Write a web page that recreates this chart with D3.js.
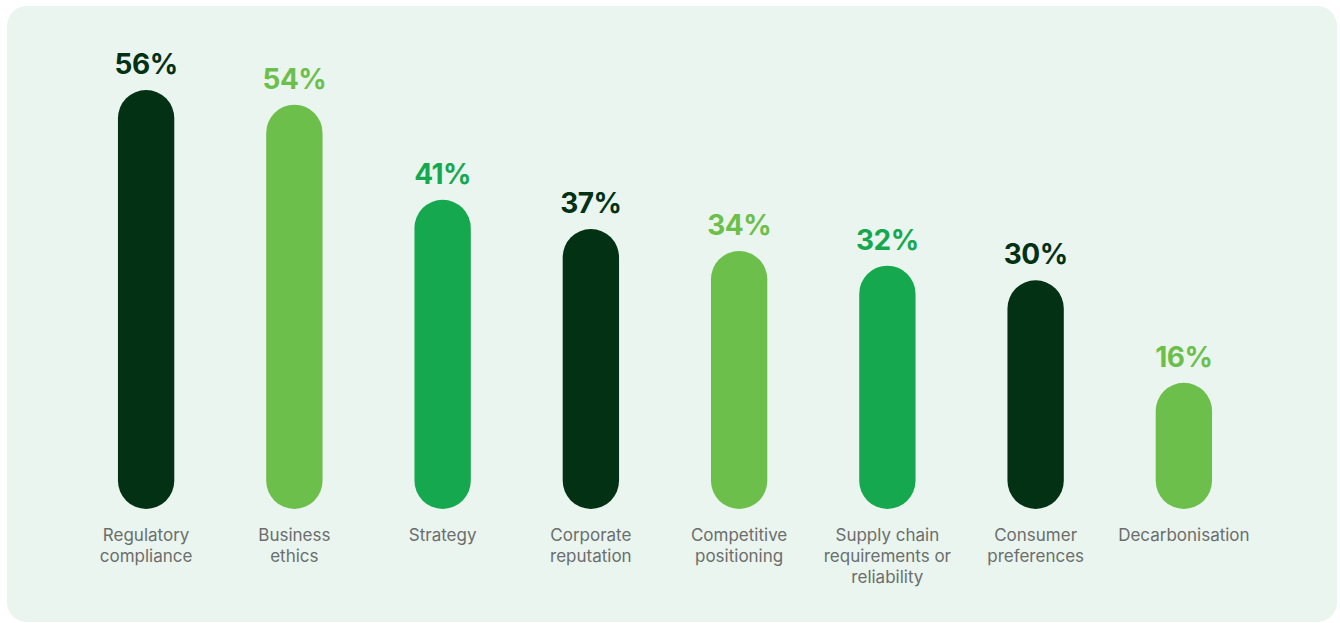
<!DOCTYPE html>
<html>
<head>
<meta charset="utf-8">
<script src="https://cdn.jsdelivr.net/npm/d3@7"></script>
<style>
  html, body { margin: 0; padding: 0; background: #ffffff; }
  svg { display: block; }
</style>
</head>
<body>
<svg id="chart" width="1340" height="623"></svg>
<script>
// Share of respondents citing each driver
const categories = [
  "Regulatory compliance",
  "Business ethics",
  "Strategy",
  "Corporate reputation",
  "Competitive positioning",
  "Supply chain requirements or reliability",
  "Consumer preferences",
  "Decarbonisation"
];
const labelLines = [
  ["Regulatory", "compliance"],
  ["Business", "ethics"],
  ["Strategy"],
  ["Corporate", "reputation"],
  ["Competitive", "positioning"],
  ["Supply chain", "requirements or", "reliability"],
  ["Consumer", "preferences"],
  ["Decarbonisation"]
];
const values = [56, 54, 41, 37, 34, 32, 30, 16];
const palette = ["#023114", "#6dbf4b", "#16a84f"];

const svg = d3.select("#chart");
const W = 1340, H = 623;

// Background panel
svg.append("rect")
  .attr("x", 7).attr("y", 6)
  .attr("width", 1330).attr("height", 616)
  .attr("rx", 20).attr("ry", 20)
  .attr("fill", "#eaf5ef");

const x = d3.scaleBand()
  .domain(categories)
  .range([72, 1258])
  .paddingInner(0.62)
  .paddingOuter(0.31);

const baseline = 509;
const y = d3.scaleLinear().domain([0, 56]).range([500, 90]);

const color = (d, i) => palette[i % 3];
const bw = x.bandwidth();

const g = svg.append("g");

// Pill-shaped bars
g.selectAll("rect.bar")
  .data(values)
  .join("rect")
  .attr("class", "bar")
  .attr("x", (d, i) => x(categories[i]))
  .attr("y", d => y(d))
  .attr("width", bw)
  .attr("height", d => baseline - y(d))
  .attr("rx", bw / 2).attr("ry", bw / 2)
  .attr("fill", color);

// Value labels
g.selectAll("text.value")
  .data(values)
  .join("text")
  .attr("class", "value")
  .attr("x", (d, i) => x(categories[i]) + bw / 2)
  .attr("y", d => y(d) - 16)
  .attr("text-anchor", "middle")
  .attr("font-family", "Inter, 'Open Sans', sans-serif")
  .attr("font-weight", 700)
  .attr("font-size", 28)
  .attr("letter-spacing", "-0.5")
  .attr("fill", color)
  .text(d => d + "%");

// Category labels
const cat = g.selectAll("text.cat")
  .data(categories)
  .join("text")
  .attr("class", "cat")
  .attr("x", d => x(d) + bw / 2)
  .attr("y", 541)
  .attr("text-anchor", "middle")
  .attr("font-family", "Inter, 'Open Sans', sans-serif")
  .attr("font-size", 17)
  .attr("fill", "#6b6e6c");

cat.selectAll("tspan")
  .data((d, i) => labelLines[i])
  .join("tspan")
  .attr("x", function() { return d3.select(this.parentNode).attr("x"); })
  .attr("dy", (d, i) => i === 0 ? 0 : 21)
  .text(d => d);
</script>
</body>
</html>
